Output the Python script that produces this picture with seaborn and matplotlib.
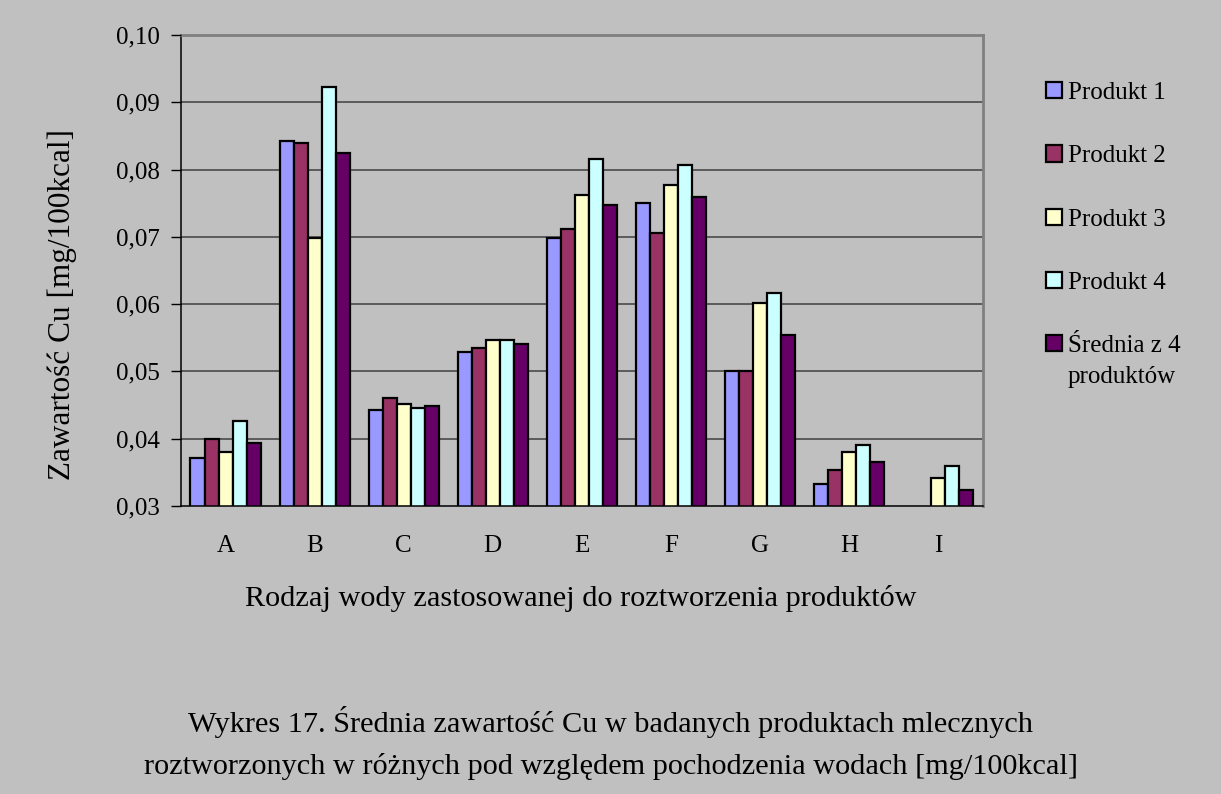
import numpy as np
import pandas as pd
import matplotlib
matplotlib.use("Agg")
import matplotlib.pyplot as plt
from matplotlib.ticker import FuncFormatter, FixedLocator
import seaborn as sns

categories = ["A", "B", "C", "D", "E", "F", "G", "H", "I"]
produkt1 = [0.0372, 0.0842, 0.0443, 0.0529, 0.0699, 0.0750, 0.0500, 0.0333, np.nan]
produkt2 = [0.0399, 0.0840, 0.0461, 0.0535, 0.0711, 0.0706, 0.0500, 0.0354, np.nan]
produkt3 = [0.0380, 0.0699, 0.0452, 0.0547, 0.0762, 0.0777, 0.0601, 0.0380, 0.0342]
produkt4 = [0.0426, 0.0923, 0.0446, 0.0547, 0.0816, 0.0807, 0.0616, 0.0390, 0.0360]
srednia = [0.0393, 0.0825, 0.0449, 0.0541, 0.0747, 0.0759, 0.0554, 0.0366, 0.0324]
series_names = ["Produkt 1", "Produkt 2", "Produkt 3", "Produkt 4", "Średnia z 4"]
colors = ["#9999FF", "#993366", "#FFFFCC", "#CCFFFF", "#660066"]

rows = []
for name, vals in zip(series_names, [produkt1, produkt2, produkt3, produkt4, srednia]):
    for c, v in zip(categories, vals):
        rows.append({"kat": c, "seria": name, "val": v})
df = pd.DataFrame(rows)

sns.set_theme(style="white")
plt.rcParams["font.family"] = ["Liberation Serif", "DejaVu Serif"]
plt.rcParams["text.color"] = "black"
plt.rcParams["axes.labelcolor"] = "black"
plt.rcParams["xtick.color"] = "black"
plt.rcParams["ytick.color"] = "black"
BG = "#C0C0C0"

fig = plt.figure(figsize=(12.21, 7.94), dpi=100, facecolor=BG)
ax = fig.add_axes([181 / 1221, 1 - 506 / 794, (982.5 - 181) / 1221, (506 - 35) / 794])
ax.set_facecolor(BG)

sns.barplot(data=df, x="kat", y="val", hue="seria", order=categories,
            hue_order=series_names, palette=colors, width=0.787, gap=0,
            edgecolor="black", linewidth=1.6, errorbar=None, ax=ax,
            saturation=1, legend=True)

ax.set_ylim(0.03, 0.10)
ax.set_xlim(-0.5, len(categories) - 0.5)
yt = [0.03, 0.04, 0.05, 0.06, 0.07, 0.08, 0.09, 0.10]
ax.yaxis.set_major_locator(FixedLocator(yt))
ax.yaxis.set_major_formatter(FuncFormatter(lambda v, p: f"{v:.2f}".replace(".", ",")))
for v in yt[1:-1]:
    ax.axhline(v, color="#404040", linewidth=1.1, zorder=0.5)

ax.set_xticks(np.arange(len(categories)))
ax.set_xticklabels(categories)
ax.set_xticks(np.arange(-0.5, len(categories)), minor=True)
ax.tick_params(axis="x", which="major", length=0, pad=21, labelsize=18, colors="black")
ax.tick_params(axis="x", which="minor", length=7, width=1, color="#404040", direction="out")
ax.tick_params(axis="y", which="major", length=7, width=1, color="black", direction="out",
               pad=8, labelsize=18, left=True, labelcolor="black")

for s in ["left", "bottom"]:
    ax.spines[s].set_color("black")
    ax.spines[s].set_linewidth(1.1)
for s in ["top", "right"]:
    ax.spines[s].set_color("#808080")
    ax.spines[s].set_linewidth(2)
ax.set_axisbelow(False)

ax.set_xlabel("Rodzaj wody zastosowanej do roztworzenia produktów", fontsize=21.8)
ax.xaxis.set_label_coords(0.4985, -0.2123)
ax.xaxis.label.set_verticalalignment("baseline")
ax.set_ylabel("Zawartość Cu [mg/100kcal]", fontsize=22.5)
ax.yaxis.set_label_coords(-0.13, 0.427)

handles, labels = ax.get_legend_handles_labels()
ax.get_legend().remove()
leg = fig.legend(handles, labels, loc="upper left",
                 bbox_to_anchor=(1036 / 1221, 1 - 72 / 794), frameon=False,
                 fontsize=18, handlelength=0.62, handleheight=0.62,
                 handletextpad=0.25, labelspacing=1.65, borderaxespad=0)
for h in leg.legend_handles:
    h.set_edgecolor("black")
    h.set_linewidth(1.6)

fig.canvas.draw()
last = leg.get_texts()[-1]
bb = last.get_window_extent()
fig.text(bb.x0 / fig.bbox.width, (bb.y0 - 9) / fig.bbox.height, "produktów",
         fontsize=18, ha="left", va="top")

fig.text(0.5, 1 - 732 / 794,
         "Wykres 17. Średnia zawartość Cu w badanych produktach mlecznych",
         ha="center", va="baseline", fontsize=21.8)
fig.text(0.5, 1 - 774 / 794,
         "roztworzonych w różnych pod względem pochodzenia wodach [mg/100kcal]",
         ha="center", va="baseline", fontsize=21.8)

fig.savefig("out.png", dpi=100, facecolor=BG)
